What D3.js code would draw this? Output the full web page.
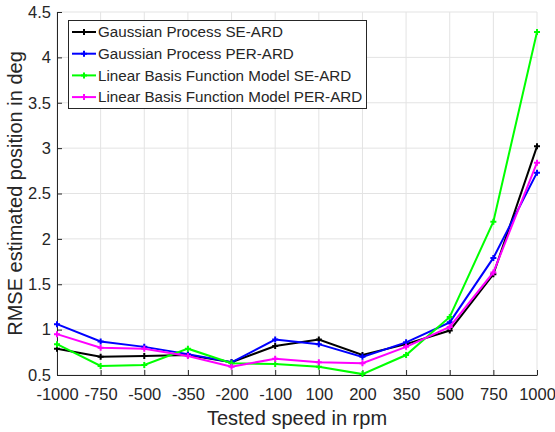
<!DOCTYPE html>
<html><head><meta charset="utf-8">
<script src="https://cdn.jsdelivr.net/npm/d3@7"></script>
<style>body{margin:0;background:#fff}svg{display:block}text{font-family:"Liberation Sans",Arial,sans-serif;fill:#262626}</style>
</head><body><svg id="c" width="555" height="432"></svg>
<script>
const categories = ["-1000","-750","-500","-350","-200","-100","100","200","350","500","750","1000"];
const gpSE   = [0.79,0.70,0.71,0.72,0.64,0.82,0.89,0.72,0.84,0.99,1.61,3.02];
const gpPER  = [1.06,0.87,0.81,0.73,0.64,0.89,0.84,0.70,0.86,1.08,1.79,2.73];
const lbfSE  = [0.84,0.60,0.61,0.79,0.63,0.62,0.59,0.51,0.72,1.14,2.19,4.28];
const lbfPER = [0.95,0.80,0.79,0.71,0.59,0.68,0.64,0.63,0.81,1.03,1.63,2.84];
const seriesNames = ["Gaussian Process SE-ARD","Gaussian Process PER-ARD","Linear Basis Function Model SE-ARD","Linear Basis Function Model PER-ARD"];
const seriesColors = ["#000000","#0000ff","#00ff00","#ff00ff"];
const yTicks = [0.5,1,1.5,2,2.5,3,3.5,4,4.5];
const series = [gpSE,gpPER,lbfSE,lbfPER];

const svg = d3.select("#c");
const L=57, R=537, T=12, B=375;
const x = d3.scalePoint().domain(categories).range([L,R]);
const y = d3.scaleLinear().domain([0.5,4.5]).range([B,T]);

// grid
const g = svg.append("g");
g.selectAll("line.vg").data(categories).join("line")
  .attr("x1",d=>x(d)).attr("x2",d=>x(d)).attr("y1",T).attr("y2",B)
  .attr("stroke","#e3e3e3").attr("stroke-width",1);
g.selectAll("line.hg").data(yTicks).join("line")
  .attr("x1",L).attr("x2",R).attr("y1",d=>y(d)).attr("y2",d=>y(d))
  .attr("stroke","#e3e3e3").attr("stroke-width",1);

// axes
const xAxis = d3.axisBottom(x).tickSizeInner(-5).tickSizeOuter(0).tickPadding(13);
const yAxis = d3.axisLeft(y).tickValues(yTicks).tickFormat(d3.format("")).tickSizeInner(-5).tickSizeOuter(0).tickPadding(6);
const gx = svg.append("g").attr("transform",`translate(0,${B})`).call(xAxis);
const gy = svg.append("g").attr("transform",`translate(${L},0)`).call(yAxis);
[gx,gy].forEach(a=>{
  a.selectAll("path").attr("stroke","#262626").attr("stroke-width",1);
  a.selectAll("line").attr("stroke","#262626");
  a.selectAll("text").style("font-size","16.5px").attr("fill","#262626");
});

// lines
const line = d3.line().x((d,i)=>x(categories[i])).y(d=>y(d));
series.forEach((s,k)=>{
  svg.append("path").datum(s).attr("d",line).attr("fill","none")
    .attr("stroke",seriesColors[k]).attr("stroke-width",2);
  svg.append("g").selectAll("path").data(s).join("path")
    .attr("transform",(d,i)=>`translate(${x(categories[i])},${y(d)})`)
    .attr("d","M-3,0H3M0,-3V3").attr("stroke",seriesColors[k]).attr("stroke-width",2);
});

// labels
svg.append("text").attr("x",(L+R)/2).attr("y",425).attr("text-anchor","middle")
  .style("font-size","20px").text("Tested speed in rpm");
svg.append("text").attr("transform",`translate(22,${(T+B)/2}) rotate(-90)`).attr("text-anchor","middle")
  .style("font-size","20px").text("RMSE estimated position in deg");

// legend
const lg = svg.append("g");
lg.append("rect").attr("x",68.5).attr("y",20.5).attr("width",298).attr("height",88)
  .attr("fill","#fff").attr("stroke","#262626").attr("stroke-width",1);
seriesNames.forEach((n,k)=>{
  const yy = 32 + k*21.7;
  lg.append("line").attr("x1",72).attr("x2",96).attr("y1",yy).attr("y2",yy)
    .attr("stroke",seriesColors[k]).attr("stroke-width",2);
  lg.append("path").attr("transform",`translate(84,${yy})`).attr("d","M-3,0H3M0,-3V3")
    .attr("stroke",seriesColors[k]).attr("stroke-width",2);
  lg.append("text").attr("x",98).attr("y",yy).attr("dy","0.35em").style("font-size","15.2px").text(n);
});
</script></body></html>
